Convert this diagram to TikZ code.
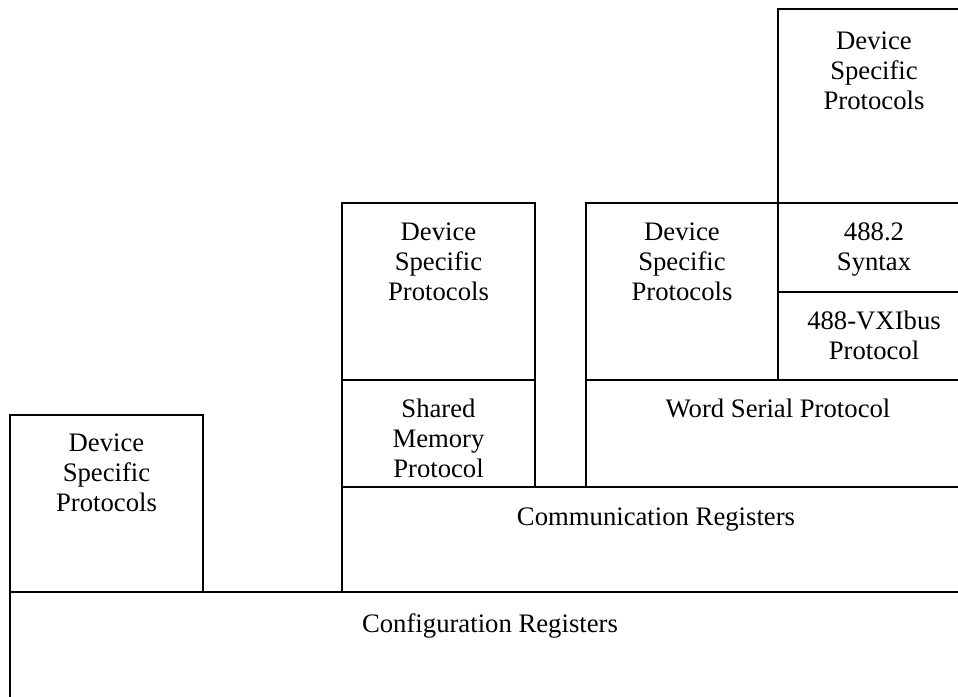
\documentclass[tikz,border=0pt]{standalone}
\usepackage{fontspec}
\setmainfont{Liberation Serif}
\usetikzlibrary{positioning}

\begin{document}
\begin{tikzpicture}[x=1pt, y=-1pt, line width=1.6pt, blk/.style={draw, rectangle, inner sep=0pt, outer sep=0pt, anchor=north west}, txt/.style={align=center, inner sep=0pt, font=\fontsize{26.7}{30}\selectfont}]
\clip (0,0) rectangle (958,696);
% bottom layers
\node[blk, minimum width=960pt, minimum height=200pt] (cfg) at (10,592) {};
\node[blk, minimum width=193pt, minimum height=177pt] (dspa) at (10,415) {};
\node[blk, minimum width=628pt, minimum height=105pt] (comm) at (342,487) {};
% shared memory side
\node[blk, minimum width=193pt, minimum height=107pt] (shm) at (342,380) {};
\node[blk, minimum width=193pt, minimum height=177pt] (dspb) at (342,203) {};
% word serial side
\node[blk, minimum width=384pt, minimum height=107pt] (wsp) at (586,380) {};
\node[blk, minimum width=192pt, minimum height=177pt] (dspc) at (586,203) {};
\node[blk, minimum width=192pt, minimum height=88pt] (vxi) at (778,292) {};
\node[blk, minimum width=192pt, minimum height=89pt] (syn) at (778,203) {};
\node[blk, minimum width=192pt, minimum height=194pt] (dspd) at (778,9) {};
% texts
\node[txt, below=21pt of cfg.north] (cfg-t) {Configuration Registers};
\node[txt, below=18pt of dspa.north] (dspa-t) {Device\\Specific\\Protocols};
\node[txt, below=20pt of comm.north] (comm-t) {Communication Registers};
\node[txt, below=18pt of shm.north] (shm-t) {Shared\\Memory\\Protocol};
\node[txt, below=19pt of dspb.north] (dspb-t) {Device\\Specific\\Protocols};
\node[txt, below=18pt of wsp.north] (wsp-t) {Word Serial Protocol};
\node[txt, below=19pt of dspc.north] (dspc-t) {Device\\Specific\\Protocols};
\node[txt, below=18pt of vxi.north] (vxi-t) {488-VXIbus\\Protocol};
\node[txt, below=19pt of syn.north] (syn-t) {488.2\\Syntax};
\node[txt, below=22pt of dspd.north] (dspd-t) {Device\\Specific\\Protocols};
\end{tikzpicture}
\end{document}
